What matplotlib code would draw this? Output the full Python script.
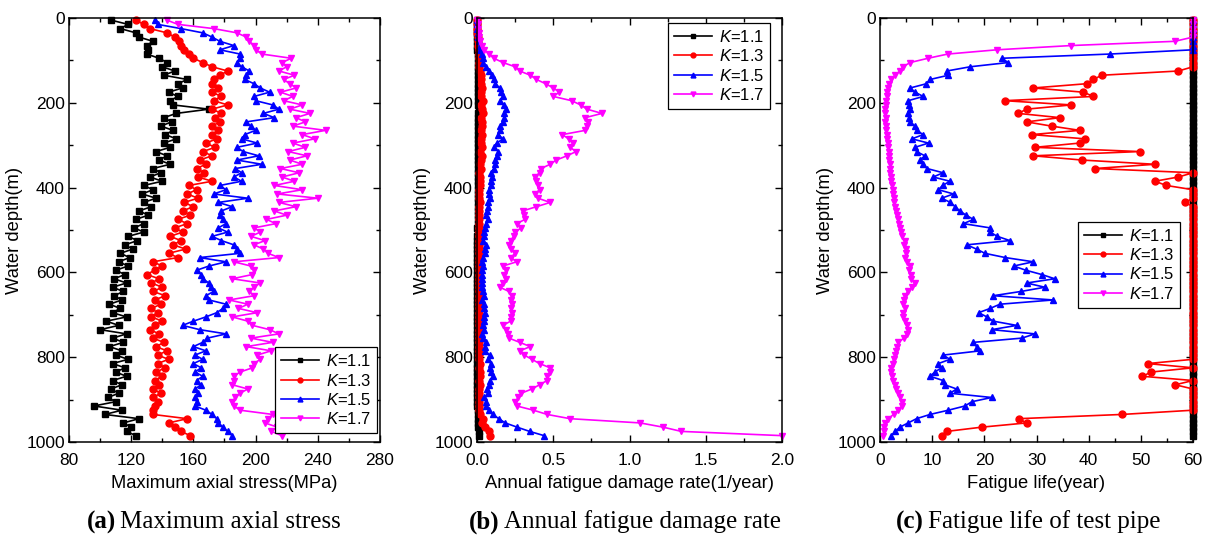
import numpy as np
import matplotlib
matplotlib.use('Agg')
import matplotlib.pyplot as plt
from matplotlib.ticker import MultipleLocator, FormatStrFormatter

plt.rcParams['font.family'] = ['Liberation Sans', 'DejaVu Sans']
plt.rcParams['mathtext.fontset'] = 'custom'
plt.rcParams['mathtext.rm'] = 'Liberation Sans'
plt.rcParams['mathtext.it'] = 'Liberation Sans:italic'

# water depth of each computed section (m)
depth = np.arange(5, 995, 10)

labels = ['$K$=1.1', '$K$=1.3', '$K$=1.5', '$K$=1.7']

# (a) maximum axial stress, MPa
stress_k11 = [107, 118, 113, 123, 125, 134, 130, 131, 130, 138,
              143, 140, 148, 141, 156, 150, 153, 144, 150, 145,
              147, 170, 149, 141, 146, 139, 147, 142, 149, 141,
              145, 136, 143, 138, 145, 134, 139, 132, 140, 128,
              134, 127, 136, 128, 133, 125, 131, 123, 128, 122,
              128, 118, 124, 116, 121, 113, 119, 112, 118, 110,
              116, 109, 117, 108, 115, 109, 114, 106, 113, 108,
              117, 104, 112, 100, 117, 108, 115, 106, 114, 110,
              118, 108, 116, 110, 117, 108, 114, 107, 112, 105,
              110, 96, 114, 103, 125, 115, 120, 117, 123]
stress_k13 = [123, 128, 132, 143, 148, 151, 152, 154, 157, 160,
              166, 172, 182, 177, 173, 172, 176, 172, 178, 173,
              182, 172, 178, 174, 177, 172, 176, 172, 175, 168,
              174, 166, 172, 164, 168, 162, 167, 163, 172, 157,
              162, 156, 163, 154, 160, 153, 158, 150, 156, 148,
              153, 145, 152, 147, 155, 144, 150, 134, 140, 135,
              130, 138, 133, 140, 134, 142, 135, 139, 133, 137,
              133, 140, 135, 132, 138, 134, 141, 136, 143, 137,
              144, 137, 142, 136, 140, 135, 138, 134, 139, 134,
              137, 135, 134, 134, 156, 144, 148, 152, 158]
stress_k15 = [135, 137, 152, 166, 172, 177, 186, 177, 190, 190,
              188, 191, 196, 194, 193, 199, 203, 209, 199, 200,
              211, 215, 205, 212, 194, 197, 200, 193, 191, 201,
              188, 192, 202, 188, 204, 187, 191, 186, 191, 177,
              181, 173, 195, 176, 185, 178, 177, 179, 181, 176,
              182, 172, 178, 186, 188, 190, 164, 181, 170, 162,
              165, 166, 170, 171, 173, 168, 170, 181, 179, 175,
              168, 160, 153, 164, 181, 169, 166, 160, 168, 161,
              166, 160, 165, 161, 166, 162, 165, 161, 163, 161,
              162, 161, 168, 172, 175, 176, 179, 182, 185]
stress_k17 = [143, 150, 173, 188, 194, 196, 199, 200, 204, 223,
              217, 220, 215, 225, 218, 222, 226, 216, 224, 218,
              230, 222, 235, 226, 232, 224, 245, 230, 238, 224,
              232, 221, 233, 222, 230, 216, 228, 217, 225, 212,
              230, 214, 240, 215, 226, 212, 220, 207, 213, 199,
              203, 197, 206, 199, 205, 208, 215, 186, 197, 199,
              198, 185, 203, 199, 196, 199, 183, 195, 189, 201,
              185, 195, 198, 209, 215, 197, 211, 194, 210, 201,
              203, 199, 198, 190, 186, 186, 185, 195, 190, 187,
              185, 186, 190, 211, 208, 206, 214, 210, 217]

# (b) annual fatigue damage rate, 1/year
damage_k11 = [0.000, 0.000, 0.001, 0.001, 0.001, 0.002, 0.002, 0.003, 0.004, 0.005,
              0.005, 0.006, 0.006, 0.007, 0.007, 0.008, 0.008, 0.008, 0.009, 0.008,
              0.009, 0.012, 0.009, 0.008, 0.008, 0.007, 0.008, 0.007, 0.008, 0.007,
              0.007, 0.006, 0.007, 0.006, 0.007, 0.006, 0.006, 0.005, 0.006, 0.005,
              0.005, 0.004, 0.005, 0.004, 0.005, 0.004, 0.004, 0.004, 0.004, 0.003,
              0.004, 0.003, 0.003, 0.003, 0.003, 0.003, 0.003, 0.003, 0.003, 0.002,
              0.003, 0.002, 0.003, 0.002, 0.003, 0.002, 0.003, 0.002, 0.002, 0.002,
              0.003, 0.002, 0.002, 0.002, 0.003, 0.002, 0.003, 0.002, 0.003, 0.002,
              0.003, 0.002, 0.003, 0.002, 0.003, 0.002, 0.003, 0.002, 0.003, 0.003,
              0.003, 0.002, 0.005, 0.004, 0.008, 0.007, 0.009, 0.011, 0.013]
damage_k13 = [0.000, 0.001, 0.002, 0.003, 0.004, 0.006, 0.008, 0.010, 0.013, 0.014,
              0.015, 0.016, 0.0175, 0.0235, 0.0245, 0.025, 0.034, 0.026, 0.0245, 0.042,
              0.027, 0.036, 0.038, 0.029, 0.036, 0.030, 0.026, 0.034, 0.025, 0.026,
              0.034, 0.020, 0.034, 0.026, 0.019, 0.024, 0.016, 0.017, 0.019, 0.018,
              0.016, 0.016, 0.016, 0.017, 0.016, 0.015, 0.014, 0.015, 0.013, 0.014,
              0.013, 0.012, 0.013, 0.012, 0.014, 0.012, 0.013, 0.011, 0.012, 0.011,
              0.012, 0.011, 0.012, 0.011, 0.012, 0.011, 0.011, 0.012, 0.011, 0.012,
              0.011, 0.012, 0.012, 0.013, 0.012, 0.013, 0.014, 0.013, 0.014, 0.015,
              0.016, 0.0195, 0.016, 0.019, 0.020, 0.016, 0.018, 0.016, 0.015, 0.015,
              0.016, 0.016, 0.016, 0.022, 0.038, 0.036, 0.051, 0.078, 0.085]
damage_k15 = [0.000, 0.000, 0.002, 0.004, 0.007, 0.010, 0.017, 0.020, 0.030, 0.040,
              0.040, 0.060, 0.080, 0.096, 0.110, 0.120, 0.150, 0.160, 0.170, 0.150,
              0.180, 0.190, 0.180, 0.180, 0.170, 0.150, 0.150, 0.140, 0.170, 0.130,
              0.110, 0.140, 0.130, 0.120, 0.120, 0.110, 0.090, 0.100, 0.090, 0.090,
              0.080, 0.080, 0.085, 0.070, 0.075, 0.065, 0.060, 0.070, 0.060, 0.050,
              0.047, 0.044, 0.040, 0.060, 0.054, 0.050, 0.042, 0.034, 0.039, 0.036,
              0.032, 0.030, 0.036, 0.032, 0.037, 0.046, 0.030, 0.043, 0.047, 0.053,
              0.049, 0.046, 0.038, 0.047, 0.034, 0.037, 0.056, 0.054, 0.052, 0.083,
              0.075, 0.089, 0.085, 0.095, 0.104, 0.083, 0.081, 0.068, 0.075, 0.047,
              0.057, 0.061, 0.076, 0.104, 0.143, 0.185, 0.263, 0.345, 0.440]
damage_k17 = [0.000, 0.005, 0.008, 0.010, 0.015, 0.018, 0.030, 0.045, 0.080, 0.110,
              0.170, 0.250, 0.280, 0.350, 0.390, 0.450, 0.500, 0.540, 0.500, 0.620,
              0.680, 0.720, 0.820, 0.710, 0.730, 0.720, 0.710, 0.560, 0.600, 0.630,
              0.610, 0.650, 0.590, 0.520, 0.480, 0.420, 0.410, 0.380, 0.390, 0.400,
              0.410, 0.380, 0.400, 0.480, 0.390, 0.300, 0.310, 0.315, 0.260, 0.290,
              0.250, 0.240, 0.220, 0.210, 0.220, 0.250, 0.220, 0.260, 0.170, 0.190,
              0.180, 0.190, 0.170, 0.150, 0.210, 0.230, 0.220, 0.230, 0.220, 0.230,
              0.220, 0.220, 0.170, 0.190, 0.200, 0.210, 0.280, 0.350, 0.280, 0.310,
              0.360, 0.410, 0.480, 0.480, 0.460, 0.460, 0.410, 0.360, 0.290, 0.270,
              0.250, 0.260, 0.370, 0.460, 0.610, 1.070, 1.220, 1.340, 2.000]

# (c) fatigue life, years (capped at 60)
life_k11 = [60, 60, 60, 60, 60, 60, 60, 60, 60, 60,
            60, 60, 60, 60, 60, 60, 60, 60, 60, 60,
            60, 60, 60, 60, 60, 60, 60, 60, 60, 60,
            60, 60, 60, 60, 60, 60, 60, 60, 60, 60,
            60, 60, 60, 60, 60, 60, 60, 60, 60, 60,
            60, 60, 60, 60, 60, 60, 60, 60, 60, 60,
            60, 60, 60, 60, 60, 60, 60, 60, 60, 60,
            60, 60, 60, 60, 60, 60, 60, 60, 60, 60,
            60, 60, 60, 60, 60, 60, 60, 60, 60, 60,
            60, 60, 60, 60, 60, 60, 60, 60, 60]
life_k13 = [60, 60, 60, 60, 60, 60, 60, 60, 60, 60,
            60, 60, 57.2, 42.5, 40.9, 39.6, 29.4, 39.0, 40.9, 23.9,
            36.7, 28.1, 26.5, 34.5, 28.1, 32.9, 38.3, 29.1, 39.3, 38.3,
            29.7, 49.8, 29.4, 38.7, 52.7, 41.2, 60, 57.2, 52.7, 54.9,
            60, 60, 60, 58.5, 60, 60, 60, 60, 60, 60,
            60, 60, 60, 60, 60, 60, 60, 60, 60, 60,
            60, 60, 60, 60, 60, 60, 60, 60, 60, 60,
            60, 60, 60, 60, 60, 60, 60, 60, 60, 60,
            60, 51.3, 60, 52.0, 50.3, 60, 56.6, 60, 60, 60,
            60, 60, 60, 46.4, 26.6, 28.1, 19.5, 12.8, 11.8]
life_k15 = [60, 60, 60, 60, 60, 60, 60, 60, 44.1, 23.3,
            24.6, 17.3, 12.8, 13.1, 9.6, 8.9, 5.8, 6.7, 8.3, 5.4,
            5.6, 5.8, 5.4, 5.5, 5.8, 6.7, 7.0, 8.3, 6.1, 9.3,
            6.7, 7.0, 8.6, 7.6, 8.3, 9.0, 12.1, 10.2, 13.4, 12.0,
            11.2, 14.1, 11.8, 13.5, 14.4, 15.3, 16.5, 17.9, 16.0, 21.1,
            21.1, 22.5, 24.9, 16.6, 18.5, 20.1, 24.0, 29.4, 25.6, 28.0,
            31.0, 33.5, 28.1, 31.6, 27.0, 21.7, 33.2, 23.0, 21.1, 18.9,
            20.5, 21.7, 26.2, 21.4, 29.7, 27.2, 17.9, 18.5, 19.2, 12.1,
            13.4, 11.2, 11.8, 10.5, 9.6, 12.1, 12.4, 14.7, 13.4, 21.4,
            17.6, 16.3, 13.1, 9.6, 7.0, 5.4, 3.8, 2.9, 2.2]
life_k17 = [60, 60, 60, 60, 60, 56.5, 36.6, 22.4, 13.0, 9.2,
            5.8, 4.4, 3.8, 2.9, 2.2, 1.8, 1.5, 1.4, 1.3, 1.2,
            1.1, 1.0, 1.0, 1.1, 1.0, 1.1, 1.2, 1.3, 1.4, 1.5,
            1.6, 1.7, 1.7, 1.8, 1.9, 2.0, 2.0, 2.1, 2.2, 2.3,
            2.4, 2.5, 2.6, 2.7, 2.9, 3.0, 3.2, 3.4, 3.6, 3.8,
            4.0, 4.2, 4.8, 4.6, 4.9, 5.0, 4.7, 5.2, 5.8, 5.5,
            6.0, 5.9, 6.7, 6.1, 5.3, 4.8, 4.6, 4.4, 4.8, 4.5,
            4.4, 4.8, 5.1, 5.4, 5.2, 4.6, 3.5, 3.3, 3.1, 2.9,
            2.6, 2.4, 2.2, 2.2, 2.3, 2.5, 2.8, 3.1, 3.4, 3.8,
            4.15, 4.2, 3.5, 2.6, 1.6, 0.96, 0.82, 0.75, 0.5]

colors = ['black', '#ff0000', '#0000ff', '#ff00ff']
markers = ['s', 'o', '^', 'v']

W, H = 1207, 535
fig = plt.figure(figsize=(W / 100, H / 100), dpi=100)


def add_panel(left, width, series, xlim, xmajor, xminor, xlabel, fmt, leg_loc, leg_anchor):
    ax = fig.add_axes([left / W, 1 - 442 / H, width / W, 424 / H])
    for vals, c, m, lab in zip(series, colors, markers, labels):
        ax.plot(vals, depth, color=c, marker=m, ms=5, lw=1.2, label=lab, clip_on=False)
    ax.set_xlim(*xlim)
    ax.set_ylim(1000, 0)
    ax.xaxis.set_major_locator(MultipleLocator(xmajor))
    ax.xaxis.set_minor_locator(MultipleLocator(xminor))
    ax.xaxis.set_major_formatter(FormatStrFormatter(fmt))
    ax.yaxis.set_major_locator(MultipleLocator(200))
    ax.yaxis.set_minor_locator(MultipleLocator(100))
    ax.tick_params(which='both', direction='in', top=True, right=True, labelsize=12.5, width=1)
    ax.tick_params(which='major', length=5)
    ax.tick_params(which='minor', length=3)
    ax.tick_params(axis='x', pad=8)
    ax.tick_params(axis='y', pad=3)
    for s in ax.spines.values():
        s.set_linewidth(1.1)
    ax.set_xlabel(xlabel, fontsize=13.2, labelpad=5)
    ax.set_ylabel('Water depth(m)', fontsize=13.2, labelpad=2)
    leg = ax.legend(loc=leg_loc, bbox_to_anchor=leg_anchor, borderaxespad=0, fontsize=12,
                    fancybox=False, framealpha=1, edgecolor='black', handlelength=2.3,
                    handletextpad=0.4, labelspacing=0.2, borderpad=0.35, markerscale=0.7)
    leg.get_frame().set_linewidth(0.9)
    return ax


add_panel(69, 311, [stress_k11, stress_k13, stress_k15, stress_k17], (80, 280), 40, 20,
          'Maximum axial stress(MPa)', '%d', 'lower right', (0.99, 0.021))
add_panel(477, 305, [damage_k11, damage_k13, damage_k15, damage_k17], (0, 2.0), 0.5, 0.25,
          'Annual fatigue damage rate(1/year)', '%.1f', 'upper right', (0.961, 0.988))
add_panel(880, 313, [life_k11, life_k13, life_k15, life_k17], (0, 60), 10, 5,
          'Fatigue life(year)', '%d', 'upper right', (0.958, 0.519))

# sub-figure captions: bold tag followed by regular title
renderer = fig.canvas.get_renderer()
for xc, tag, body in [(214, '(a)', 'Maximum axial stress'),
                      (625, '(b)', 'Annual fatigue damage rate'),
                      (1028, '(c)', 'Fatigue life of test pipe')]:
    y = 1 - 522 / H
    t1 = fig.text(0, y, tag, family='Liberation Serif', fontsize=18, fontweight='bold', va='center')
    t2 = fig.text(0, y, body, family='Liberation Serif', fontsize=18, va='center')
    w1 = t1.get_window_extent(renderer).width
    w2 = t2.get_window_extent(renderer).width
    gap = 4
    x0 = xc - (w1 + gap + w2) / 2
    t1.set_x(x0 / W)
    t2.set_x((x0 + w1 + gap) / W)

fig.savefig('out.png', dpi=100)
